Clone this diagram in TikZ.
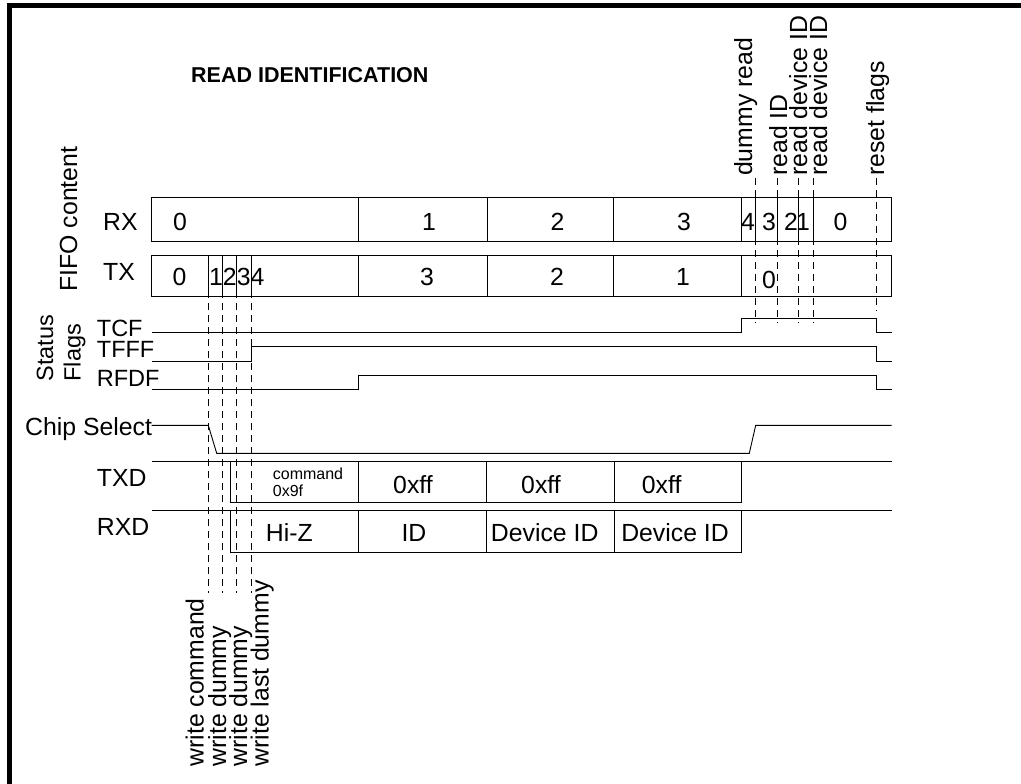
\documentclass[tikz,border=0pt]{standalone}
\usepackage{fontspec}
\setmainfont{Liberation Sans}
\begin{document}
\begin{tikzpicture}[x=1pt,y=-1pt,
  sig/.style={line width=0.9pt, line join=miter},
  box/.style={line width=0.9pt},
  guide/.style={line width=0.9pt, dash pattern=on 7pt off 5pt},
  lbl/.style={inner sep=0pt, font=\fontsize{24.8}{29}\selectfont},
  lblw/.style={lbl, anchor=base west},
  lblc/.style={lbl, anchor=base},
  flag/.style={inner sep=0pt, anchor=base west, font=\fontsize{23.5}{26}\selectfont},
  rot/.style={lbl, rotate=90, anchor=base west},
  small/.style={inner sep=0pt, anchor=base west, font=\fontsize{16}{19}\selectfont},
  frame/.style={line width=5pt, line join=miter}]
\useasboundingbox (0,0) rectangle (1021,784);
\draw[frame] (9.2,784) -- (9.2,5.8) -- (1021,5.8);

% title
\node[inner sep=0pt, anchor=base west, font=\bfseries\fontsize{21.5}{26}\selectfont] (title) at (191,83) {READ IDENTIFICATION};

% left labels
\node[rot] (fifo) at (77,291.7) {FIFO content};
\node[lblw] (rxl) at (103,230) {RX};
\node[lblw] (txl) at (103,280) {TX};
\node[rot, font=\fontsize{23.5}{26}\selectfont] (status) at (53,381.7) {Status};
\node[rot, font=\fontsize{23.5}{26}\selectfont] (flags) at (80.5,381.7) {Flags};
\node[flag] (tcfl) at (96.7,336) {TCF};
\node[flag] (tfffl) at (96.7,357.5) {TFFF};
\node[flag] (rfdfl) at (96.7,386.5) {RFDF};
\node[lblw] (csl) at (25,435) {Chip Select};
\node[lblw] (txdl) at (96.7,486) {TXD};
\node[lblw] (rxdl) at (96.7,535) {RXD};

% guide lines (dashed)
\foreach \x/\n in {208.3/a,222.7/b,236.7/c,251.7/d}{
  \coordinate (g\n t) at (\x,255);
  \coordinate (g\n b) at (\x,593);
  \draw[guide] (g\n t) -- (g\n b);
}
\foreach \x/\n in {755.7/e,777/f,798.7/g,813/h}{
  \coordinate (g\n t) at (\x,178);
  \coordinate (g\n b) at (\x,322.7);
  \draw[guide] (g\n t) -- (g\n b);
}
\coordinate (grt) at (876.7,178);
\coordinate (grb) at (876.7,311);
\draw[guide] (grt) -- (grb);

% RX FIFO box
\draw[box] (151.7,197) rectangle (891.7,241);
\foreach \x in {358,487,613,741.7,755.7,777,798.7,813}
  \draw[box] (\x,197) -- (\x,241);
\node[lblc] (rx0) at (180,230.5) {0};
\node[lblc] (rx1) at (429,230.5) {1};
\node[lblc] (rx2) at (557.5,230.5) {2};
\node[lblc] (rx3) at (684,230.5) {3};
\node[lblc] (rx4b) at (748,230.5) {4};
\node[lblc] (rx3b) at (769,230.5) {3};
\node[lblc] (rx2b) at (791,230.5) {2};
\node[lblc] (rx1b) at (803,230.5) {1};
\node[lblc] (rx0b) at (840.5,230.5) {0};

% TX FIFO box
\draw[box] (151.7,255) rectangle (891.7,296.7);
\foreach \x in {208.3,222.7,236.7,251.7,358,487,613,741.7}
  \draw[box] (\x,255) -- (\x,296.7);
\node[lblc] (tx0) at (179.5,285) {0};
\node[lblw] (tx1234) at (209,285) {1234};
\node[lblc] (tx3) at (427,285) {3};
\node[lblc] (tx2) at (557,285) {2};
\node[lblc] (tx1) at (683,285) {1};
\node[lblc] (tx0b) at (769,288) {0};

% status flags
\draw[sig] (151.7,332.3) -- (741.7,332.3) -- (741.7,318.3) -- (876.7,318.3) -- (876.7,332.3) -- (891.7,332.3);
\draw[sig] (151.7,361.3) -- (251.7,361.3) -- (251.7,346.7) -- (876.7,346.7) -- (876.7,361.3) -- (891.7,361.3);
\draw[sig] (151.7,389.3) -- (358,389.3) -- (358,375.3) -- (876.7,375.3) -- (876.7,389.5) -- (891.7,389.5);

% chip select
\draw[sig] (151.7,425.3) -- (208.3,425.3) -- (216.7,453.3) -- (749.3,453.3) -- (755.7,425.3) -- (891.7,425.3);

% TXD
\draw[sig] (151.7,461) -- (891.7,461);
\draw[box] (230,461) rectangle (741.7,502.7);
\foreach \x in {358.3,486.5,614}
  \draw[box] (\x,461) -- (\x,502.7);
\node[small] (cmd1) at (272.7,479) {command};
\node[small] (cmd2) at (272.7,496) {0x9f};
\node[lblc] (ff1) at (413,493) {0xff};
\node[lblc] (ff2) at (541,493) {0xff};
\node[lblc] (ff3) at (661.7,493) {0xff};

% RXD
\draw[sig] (151.7,510.7) -- (891.7,510.7);
\draw[box] (230,510.7) rectangle (741.7,552.7);
\foreach \x in {358.3,486.5,614}
  \draw[box] (\x,510.7) -- (\x,552.7);
\node[lblc] (hiz) at (289.3,541.7) {Hi-Z};
\node[lblc] (id) at (414,541.7) {ID};
\node[lblc] (dev1) at (544.7,541.7) {Device ID};
\node[lblc] (dev2) at (675,541.7) {Device ID};

% top event labels
\node[rot] (ldr) at (752,176) {dummy read};
\node[rot] (lri) at (787,176) {read ID};
\node[rot] (lrd1) at (807,176) {read device ID};
\node[rot] (lrd2) at (827,176) {read device ID};
\node[rot] (lrf) at (884,176) {reset flags};

% bottom event labels
\node[rot] (lwc) at (203.5,766.7) {write command};
\node[rot] (lwd1) at (226,766.7) {write dummy};
\node[rot] (lwd2) at (247,766.7) {write dummy};
\node[rot] (lwl) at (268.5,766.7) {write last dummy};
\end{tikzpicture}
\end{document}
